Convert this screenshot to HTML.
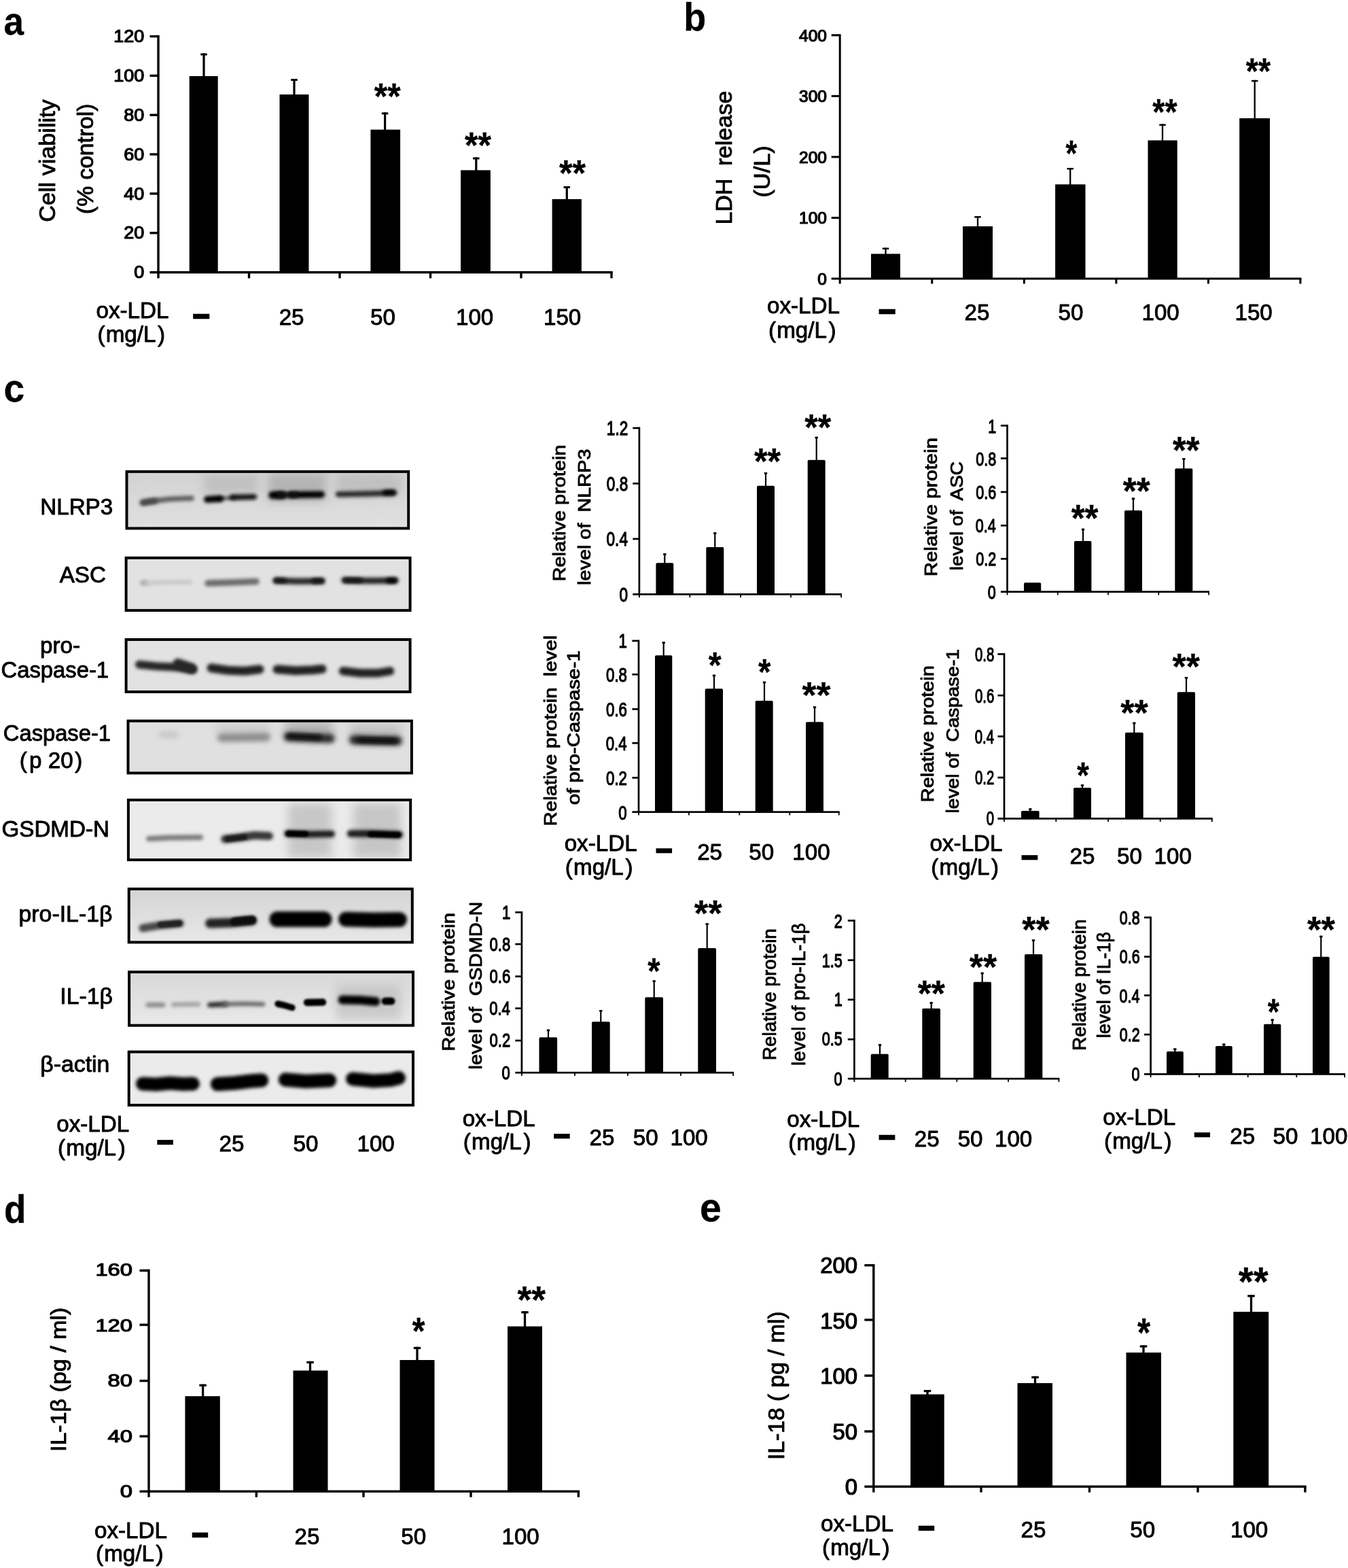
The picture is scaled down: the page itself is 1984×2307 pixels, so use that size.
<!DOCTYPE html>
<html lang="en">
<head>
<meta charset="utf-8">
<title>ox-LDL induces pyroptosis: cell viability, LDH release, NLRP3 inflammasome proteins, IL-1&#946; and IL-18</title>
<style>
html, body { margin: 0; padding: 0; background: #fff; }
body { width: 1984px; height: 2307px; overflow: hidden; }
svg { display: block; }
text { font-family: "Liberation Sans", Arial, Helvetica, sans-serif; fill: #000; white-space: pre; stroke: #000; stroke-width: 0.9px; stroke-linejoin: round; paint-order: stroke fill; }
text.b { stroke-width: 0.3px; }
text.t { stroke-width: 1.25px; }
</style>
</head>
<body>
<svg width="1984" height="2307" viewBox="0 0 1984 2307" role="img" aria-label="Figure: ox-LDL induces pyroptosis and NLRP3 inflammasome activation">
<rect width="1984" height="2307" fill="#fff"/>
<g id="blots">
<defs>
<filter id="bl1" filterUnits="userSpaceOnUse" x="170" y="680" width="460" height="960"><feGaussianBlur stdDeviation="1.6"/></filter>
<filter id="bl2" filterUnits="userSpaceOnUse" x="170" y="680" width="460" height="960"><feGaussianBlur stdDeviation="2.4"/></filter>
<filter id="bl3" filterUnits="userSpaceOnUse" x="170" y="680" width="460" height="960"><feGaussianBlur stdDeviation="3.6"/></filter>
<filter id="bl6" filterUnits="userSpaceOnUse" x="170" y="680" width="460" height="960"><feGaussianBlur stdDeviation="7"/></filter>
</defs>
<clipPath id="bc1"><rect x="186.5" y="693.9" width="414.7" height="83.5"/></clipPath>
<linearGradient id="bg1" x1="0" y1="0" x2="0" y2="1"><stop offset="0" stop-color="#d2d2d2"/><stop offset="1" stop-color="#e0e0e0"/></linearGradient>
<rect x="186.5" y="693.9" width="414.7" height="83.5" fill="url(#bg1)"/>
<g clip-path="url(#bc1)">
<rect x="300" y="698" width="80" height="28" fill="#aaa" opacity="0.5" filter="url(#bl6)"/>
<rect x="395" y="696" width="85" height="42" fill="#999" opacity="0.55" filter="url(#bl6)"/>
<rect x="495" y="698" width="95" height="30" fill="#aaa" opacity="0.5" filter="url(#bl6)"/>
<path d="M211.0 739.2 L225.0 737.2 L250.0 734.2 L282.0 733.0" fill="none" stroke="#5c5c5c" stroke-width="7.5" stroke-linecap="round" stroke-linejoin="round" opacity="1" filter="url(#bl2)"/>
<path d="M210.0 739.6 L228.0 737.0" fill="none" stroke="#484848" stroke-width="8.5" stroke-linecap="round" stroke-linejoin="round" opacity="1" filter="url(#bl2)"/>
<path d="M322.0 733.6 L345.0 732.2" fill="none" stroke="#3a3a3a" stroke-width="4.5" stroke-linecap="round" stroke-linejoin="round" opacity="1" filter="url(#bl2)"/>
<path d="M305.0 734.8 L324.0 733.8" fill="none" stroke="#050505" stroke-width="10" stroke-linecap="round" stroke-linejoin="round" opacity="1" filter="url(#bl2)"/>
<path d="M342.0 731.8 L374.0 731.0" fill="none" stroke="#0a0a0a" stroke-width="8" stroke-linecap="round" stroke-linejoin="round" opacity="1" filter="url(#bl2)"/>
<path d="M401.0 728.4 L416.0 728.4" fill="none" stroke="#000" stroke-width="11.5" stroke-linecap="round" stroke-linejoin="round" opacity="1" filter="url(#bl2)"/>
<path d="M428.0 728.0 L450.0 727.8 L473.0 727.5" fill="none" stroke="#000" stroke-width="10" stroke-linecap="round" stroke-linejoin="round" opacity="1" filter="url(#bl2)"/>
<path d="M410.0 728.3 L435.0 728.0" fill="none" stroke="#0a0a0a" stroke-width="7.5" stroke-linecap="round" stroke-linejoin="round" opacity="1" filter="url(#bl2)"/>
<path d="M498.0 727.3 L540.0 726.6 L580.0 725.2" fill="none" stroke="#2c2c2c" stroke-width="8.5" stroke-linecap="round" stroke-linejoin="round" opacity="1" filter="url(#bl2)"/>
<path d="M567.0 724.8 L578.0 724.6" fill="none" stroke="#050505" stroke-width="7.5" stroke-linecap="round" stroke-linejoin="round" opacity="1" filter="url(#bl2)"/>
</g>
<rect x="186.5" y="693.9" width="414.7" height="83.5" fill="none" stroke="#000" stroke-width="4.0"/>
<clipPath id="bc2"><rect x="185.6" y="820.8" width="418.0" height="77.3"/></clipPath>
<rect x="185.6" y="820.8" width="418.0" height="77.3" fill="#e2e2e2"/>
<g clip-path="url(#bc2)">
<path d="M210.0 857.8 L215.0 857.5" fill="none" stroke="#a0a0a0" stroke-width="7" stroke-linecap="round" stroke-linejoin="round" opacity="1" filter="url(#bl2)"/>
<path d="M215.0 858.0 L250.0 856.5 L280.0 856.5" fill="none" stroke="#c6c6c6" stroke-width="6" stroke-linecap="round" stroke-linejoin="round" opacity="1" filter="url(#bl2)"/>
<path d="M306.0 858.0 L340.0 857.0 L377.0 855.5" fill="none" stroke="#6a6a6a" stroke-width="9.5" stroke-linecap="round" stroke-linejoin="round" opacity="1" filter="url(#bl2)"/>
<path d="M406.0 854.2 L440.0 855.2 L474.0 854.7" fill="none" stroke="#2c2c2c" stroke-width="9.5" stroke-linecap="round" stroke-linejoin="round" opacity="1" filter="url(#bl2)"/>
<path d="M407.0 854.0 L418.0 854.2" fill="none" stroke="#0a0a0a" stroke-width="6" stroke-linecap="round" stroke-linejoin="round" opacity="1" filter="url(#bl2)"/>
<path d="M462.0 854.8 L473.0 854.7" fill="none" stroke="#0a0a0a" stroke-width="6.5" stroke-linecap="round" stroke-linejoin="round" opacity="1" filter="url(#bl2)"/>
<path d="M507.0 853.7 L545.0 854.4 L582.0 854.0" fill="none" stroke="#262626" stroke-width="9.5" stroke-linecap="round" stroke-linejoin="round" opacity="1" filter="url(#bl2)"/>
<path d="M509.0 853.7 L530.0 853.9" fill="none" stroke="#0a0a0a" stroke-width="6" stroke-linecap="round" stroke-linejoin="round" opacity="1" filter="url(#bl2)"/>
<path d="M572.0 854.2 L580.0 854.2" fill="none" stroke="#000" stroke-width="7.5" stroke-linecap="round" stroke-linejoin="round" opacity="1" filter="url(#bl2)"/>
</g>
<rect x="185.6" y="820.8" width="418.0" height="77.3" fill="none" stroke="#000" stroke-width="4.0"/>
<clipPath id="bc3"><rect x="185.6" y="941.0" width="418.0" height="76.9"/></clipPath>
<rect x="185.6" y="941.0" width="418.0" height="76.9" fill="#e2e2e2"/>
<g clip-path="url(#bc3)">
<path d="M205.0 977.8 L230.0 980.3 L260.0 981.8 L284.0 985.3" fill="none" stroke="#262626" stroke-width="12" stroke-linecap="round" stroke-linejoin="round" opacity="1" filter="url(#bl2)"/>
<path d="M262.0 976.3 L282.0 983.3" fill="none" stroke="#262626" stroke-width="15" stroke-linecap="round" stroke-linejoin="round" opacity="1" filter="url(#bl2)"/>
<path d="M311.0 982.8 L335.0 986.3 L360.0 987.3 L382.0 984.8" fill="none" stroke="#242424" stroke-width="13" stroke-linecap="round" stroke-linejoin="round" opacity="1" filter="url(#bl2)"/>
<path d="M408.0 984.8 L435.0 986.8 L460.0 985.8 L474.0 984.3" fill="none" stroke="#242424" stroke-width="13" stroke-linecap="round" stroke-linejoin="round" opacity="1" filter="url(#bl2)"/>
<path d="M505.0 987.3 L530.0 990.3 L555.0 990.3 L574.0 987.3" fill="none" stroke="#242424" stroke-width="12.5" stroke-linecap="round" stroke-linejoin="round" opacity="1" filter="url(#bl2)"/>
</g>
<rect x="185.6" y="941.0" width="418.0" height="76.9" fill="none" stroke="#000" stroke-width="4.0"/>
<clipPath id="bc4"><rect x="188.5" y="1060.7" width="417.4" height="76.7"/></clipPath>
<rect x="188.5" y="1060.7" width="417.4" height="76.7" fill="#e0e0e0"/>
<g clip-path="url(#bc4)">
<rect x="420" y="1062" width="70" height="22" fill="#888" opacity="0.55" filter="url(#bl6)"/>
<rect x="515" y="1066" width="75" height="20" fill="#999" opacity="0.45" filter="url(#bl6)"/>
<rect x="320" y="1066" width="76" height="18" fill="#aaa" opacity="0.4" filter="url(#bl6)"/>
<path d="M238.0 1081.0 L258.0 1081.0" fill="none" stroke="#c8c8c8" stroke-width="10" stroke-linecap="round" stroke-linejoin="round" opacity="1" filter="url(#bl3)"/>
<path d="M326.0 1085.5 L392.0 1084.5" fill="none" stroke="#8c8c8c" stroke-width="12" stroke-linecap="round" stroke-linejoin="round" opacity="1" filter="url(#bl3)"/>
<path d="M424.0 1084.0 L455.0 1085.5 L486.0 1086.5" fill="none" stroke="#2a2a2a" stroke-width="13.5" stroke-linecap="round" stroke-linejoin="round" opacity="1" filter="url(#bl3)"/>
<path d="M426.0 1083.0 L470.0 1085.0" fill="none" stroke="#111" stroke-width="7" stroke-linecap="round" stroke-linejoin="round" opacity="1" filter="url(#bl2)"/>
<path d="M521.0 1088.5 L555.0 1089.5 L585.0 1090.0" fill="none" stroke="#242424" stroke-width="14" stroke-linecap="round" stroke-linejoin="round" opacity="1" filter="url(#bl3)"/>
<path d="M530.0 1089.0 L580.0 1090.0" fill="none" stroke="#0a0a0a" stroke-width="7" stroke-linecap="round" stroke-linejoin="round" opacity="1" filter="url(#bl2)"/>
</g>
<rect x="188.5" y="1060.7" width="417.4" height="76.7" fill="none" stroke="#000" stroke-width="4.0"/>
<clipPath id="bc5"><rect x="188.9" y="1177.0" width="415.3" height="88.1"/></clipPath>
<rect x="188.9" y="1177.0" width="415.3" height="88.1" fill="#ebebeb"/>
<g clip-path="url(#bc5)">
<rect x="424" y="1182" width="64" height="80" fill="#aaa" opacity="0.55" filter="url(#bl6)"/>
<rect x="520" y="1182" width="70" height="80" fill="#a8a8a8" opacity="0.55" filter="url(#bl6)"/>
<path d="M219.0 1234.0 L250.0 1232.5 L295.0 1232.0" fill="none" stroke="#7a7a7a" stroke-width="8" stroke-linecap="round" stroke-linejoin="round" opacity="1" filter="url(#bl2)"/>
<path d="M331.0 1234.5 L350.0 1232.5 L375.0 1229.0 L396.0 1230.0" fill="none" stroke="#383838" stroke-width="12" stroke-linecap="round" stroke-linejoin="round" opacity="1" filter="url(#bl2)"/>
<path d="M335.0 1234.5 L360.0 1231.5" fill="none" stroke="#1a1a1a" stroke-width="8" stroke-linecap="round" stroke-linejoin="round" opacity="1" filter="url(#bl1)"/>
<path d="M423.0 1226.5 L455.0 1227.5 L488.0 1227.0" fill="none" stroke="#1c1c1c" stroke-width="10" stroke-linecap="round" stroke-linejoin="round" opacity="1" filter="url(#bl2)"/>
<path d="M425.0 1226.5 L450.0 1227.0" fill="none" stroke="#000" stroke-width="8.5" stroke-linecap="round" stroke-linejoin="round" opacity="1" filter="url(#bl1)"/>
<path d="M516.0 1226.5 L550.0 1226.5 L588.0 1228.0" fill="none" stroke="#1c1c1c" stroke-width="10.5" stroke-linecap="round" stroke-linejoin="round" opacity="1" filter="url(#bl2)"/>
<path d="M545.0 1227.5 L586.0 1228.5" fill="none" stroke="#000" stroke-width="8.5" stroke-linecap="round" stroke-linejoin="round" opacity="1" filter="url(#bl1)"/>
</g>
<rect x="188.9" y="1177.0" width="415.3" height="88.1" fill="none" stroke="#000" stroke-width="4.0"/>
<clipPath id="bc6"><rect x="189.7" y="1307.9" width="417.1" height="78.5"/></clipPath>
<linearGradient id="bg6" x1="0" y1="0" x2="0" y2="1"><stop offset="0" stop-color="#d4d4d4"/><stop offset="1" stop-color="#e8e8e8"/></linearGradient>
<rect x="189.7" y="1307.9" width="417.1" height="78.5" fill="url(#bg6)"/>
<g clip-path="url(#bc6)">
<path d="M210.0 1365.5 L235.0 1361.5 L265.0 1358.5" fill="none" stroke="#484848" stroke-width="11.5" stroke-linecap="round" stroke-linejoin="round" opacity="1" filter="url(#bl2)"/>
<path d="M236.0 1360.5 L264.0 1358.5" fill="none" stroke="#222" stroke-width="9" stroke-linecap="round" stroke-linejoin="round" opacity="1" filter="url(#bl1)"/>
<path d="M309.0 1358.5 L340.0 1357.5 L371.0 1354.5" fill="none" stroke="#222" stroke-width="14" stroke-linecap="round" stroke-linejoin="round" opacity="1" filter="url(#bl2)"/>
<path d="M345.0 1356.0 L371.0 1353.5" fill="none" stroke="#0a0a0a" stroke-width="12" stroke-linecap="round" stroke-linejoin="round" opacity="1" filter="url(#bl1)"/>
<path d="M408.0 1352.5 L477.0 1352.5" fill="none" stroke="#000" stroke-width="23" stroke-linecap="round" stroke-linejoin="round" opacity="1" filter="url(#bl2)"/>
<path d="M509.0 1352.5 L550.0 1353.5 L588.0 1353.0" fill="none" stroke="#000" stroke-width="22" stroke-linecap="round" stroke-linejoin="round" opacity="1" filter="url(#bl2)"/>
</g>
<rect x="189.7" y="1307.9" width="417.1" height="78.5" fill="none" stroke="#000" stroke-width="4.0"/>
<clipPath id="bc7"><rect x="190.1" y="1430.1" width="417.9" height="78.6"/></clipPath>
<linearGradient id="bg7" x1="0" y1="0" x2="0" y2="1"><stop offset="0" stop-color="#d8d8d8"/><stop offset="1" stop-color="#e9e9e9"/></linearGradient>
<rect x="190.1" y="1430.1" width="417.9" height="78.6" fill="url(#bg7)"/>
<g clip-path="url(#bc7)">
<rect x="495" y="1450" width="95" height="50" fill="#aaa" opacity="0.45" filter="url(#bl6)"/>
<path d="M218.0 1478.5 L240.0 1478.5" fill="none" stroke="#8a8a8a" stroke-width="7" stroke-linecap="round" stroke-linejoin="round" opacity="1" filter="url(#bl2)"/>
<path d="M255.0 1478.0 L292.0 1477.5" fill="none" stroke="#a0a0a0" stroke-width="6.5" stroke-linecap="round" stroke-linejoin="round" opacity="1" filter="url(#bl2)"/>
<path d="M309.0 1478.5 L332.0 1477.5" fill="none" stroke="#2a2a2a" stroke-width="7.5" stroke-linecap="round" stroke-linejoin="round" opacity="1" filter="url(#bl2)"/>
<path d="M330.0 1477.5 L360.0 1476.8 L387.0 1477.5" fill="none" stroke="#686868" stroke-width="6.5" stroke-linecap="round" stroke-linejoin="round" opacity="1" filter="url(#bl2)"/>
<path d="M409.0 1477.0 L418.0 1479.0 L430.0 1482.5" fill="none" stroke="#000" stroke-width="9.5" stroke-linecap="round" stroke-linejoin="round" opacity="1" filter="url(#bl1)"/>
<path d="M452.0 1475.0 L475.0 1474.5" fill="none" stroke="#000" stroke-width="10.5" stroke-linecap="round" stroke-linejoin="round" opacity="1" filter="url(#bl1)"/>
<path d="M504.0 1471.0 L530.0 1471.5 L553.0 1473.5" fill="none" stroke="#000" stroke-width="13" stroke-linecap="round" stroke-linejoin="round" opacity="1" filter="url(#bl2)"/>
<path d="M567.0 1473.0 L576.0 1473.0" fill="none" stroke="#000" stroke-width="11" stroke-linecap="round" stroke-linejoin="round" opacity="1" filter="url(#bl1)"/>
</g>
<rect x="190.1" y="1430.1" width="417.9" height="78.6" fill="none" stroke="#000" stroke-width="4.0"/>
<clipPath id="bc8"><rect x="189.7" y="1547.6" width="418.3" height="78.4"/></clipPath>
<rect x="189.7" y="1547.6" width="418.3" height="78.4" fill="#ebebeb"/>
<g clip-path="url(#bc8)">
<path d="M210.0 1594.5 L230.0 1595.5 L250.0 1593.5 L270.0 1595.0 L284.0 1594.5" fill="none" stroke="#000" stroke-width="20" stroke-linecap="round" stroke-linejoin="round" opacity="1" filter="url(#bl2)"/>
<path d="M320.0 1595.0 L345.0 1593.5 L370.0 1590.5 L385.0 1589.5" fill="none" stroke="#000" stroke-width="20.5" stroke-linecap="round" stroke-linejoin="round" opacity="1" filter="url(#bl2)"/>
<path d="M420.0 1588.5 L450.0 1591.0 L485.0 1589.5" fill="none" stroke="#000" stroke-width="20.5" stroke-linecap="round" stroke-linejoin="round" opacity="1" filter="url(#bl2)"/>
<path d="M519.0 1587.5 L550.0 1590.5 L575.0 1589.0 L587.0 1586.0" fill="none" stroke="#000" stroke-width="20" stroke-linecap="round" stroke-linejoin="round" opacity="1" filter="url(#bl2)"/>
</g>
<rect x="189.7" y="1547.6" width="418.3" height="78.4" fill="none" stroke="#000" stroke-width="4.0"/>
</g>
<g id="charts" shape-rendering="geometricPrecision">
<rect x="231.30" y="51.80" width="3.40" height="350.60" fill="#000"/>
<rect x="220.50" y="399.00" width="681.20" height="3.40" fill="#000"/>
<rect x="220.50" y="341.05" width="12.50" height="3.40" fill="#000"/>
<rect x="220.50" y="283.20" width="12.50" height="3.40" fill="#000"/>
<rect x="220.50" y="225.35" width="12.50" height="3.40" fill="#000"/>
<rect x="220.50" y="167.50" width="12.50" height="3.40" fill="#000"/>
<rect x="220.50" y="109.65" width="12.50" height="3.40" fill="#000"/>
<rect x="220.50" y="51.80" width="12.50" height="3.40" fill="#000"/>
<rect x="231.30" y="400.70" width="3.40" height="8.70" fill="#000"/>
<rect x="364.80" y="400.70" width="3.40" height="8.70" fill="#000"/>
<rect x="498.30" y="400.70" width="3.40" height="8.70" fill="#000"/>
<rect x="631.80" y="400.70" width="3.40" height="8.70" fill="#000"/>
<rect x="765.30" y="400.70" width="3.40" height="8.70" fill="#000"/>
<rect x="898.30" y="400.70" width="3.40" height="8.70" fill="#000"/>
<rect x="278.70" y="112.00" width="42.00" height="288.70" fill="#000"/>
<rect x="298.40" y="78.50" width="3.20" height="34.50" fill="#000"/>
<rect x="295.25" y="78.50" width="9.50" height="3.00" fill="#000"/>
<rect x="411.50" y="139.00" width="43.00" height="261.70" fill="#000"/>
<rect x="431.40" y="116.00" width="3.20" height="24.00" fill="#000"/>
<rect x="428.25" y="116.00" width="9.50" height="3.00" fill="#000"/>
<rect x="545.40" y="190.70" width="43.70" height="210.00" fill="#000"/>
<rect x="565.00" y="165.40" width="3.20" height="26.30" fill="#000"/>
<rect x="561.85" y="165.40" width="9.50" height="3.00" fill="#000"/>
<rect x="678.10" y="250.40" width="43.80" height="150.30" fill="#000"/>
<rect x="699.20" y="231.50" width="3.20" height="19.90" fill="#000"/>
<rect x="696.05" y="231.50" width="9.50" height="3.00" fill="#000"/>
<rect x="812.60" y="293.00" width="43.30" height="107.70" fill="#000"/>
<rect x="832.70" y="274.00" width="3.20" height="20.00" fill="#000"/>
<rect x="829.55" y="274.00" width="9.50" height="3.00" fill="#000"/>
<rect x="1234.70" y="50.30" width="3.00" height="361.20" fill="#000"/>
<rect x="1223.70" y="408.50" width="691.70" height="3.00" fill="#000"/>
<rect x="1223.70" y="318.95" width="12.50" height="3.00" fill="#000"/>
<rect x="1223.70" y="229.40" width="12.50" height="3.00" fill="#000"/>
<rect x="1223.70" y="139.85" width="12.50" height="3.00" fill="#000"/>
<rect x="1223.70" y="50.30" width="12.50" height="3.00" fill="#000"/>
<rect x="1234.70" y="410.00" width="3.00" height="7.50" fill="#000"/>
<rect x="1370.26" y="410.00" width="3.00" height="7.50" fill="#000"/>
<rect x="1505.82" y="410.00" width="3.00" height="7.50" fill="#000"/>
<rect x="1641.38" y="410.00" width="3.00" height="7.50" fill="#000"/>
<rect x="1776.94" y="410.00" width="3.00" height="7.50" fill="#000"/>
<rect x="1912.40" y="410.00" width="3.00" height="7.50" fill="#000"/>
<rect x="1282.00" y="373.50" width="43.00" height="36.50" fill="#000"/>
<rect x="1302.35" y="364.50" width="2.30" height="10.00" fill="#000"/>
<rect x="1298.75" y="364.50" width="9.50" height="2.50" fill="#000"/>
<rect x="1417.00" y="333.00" width="44.00" height="77.00" fill="#000"/>
<rect x="1437.85" y="318.00" width="2.30" height="16.00" fill="#000"/>
<rect x="1434.25" y="318.00" width="9.50" height="2.50" fill="#000"/>
<rect x="1553.10" y="271.30" width="44.40" height="138.70" fill="#000"/>
<rect x="1574.05" y="247.00" width="2.30" height="25.30" fill="#000"/>
<rect x="1570.45" y="247.00" width="9.50" height="2.50" fill="#000"/>
<rect x="1689.50" y="206.50" width="43.20" height="203.50" fill="#000"/>
<rect x="1709.85" y="182.50" width="2.30" height="25.00" fill="#000"/>
<rect x="1706.25" y="182.50" width="9.50" height="2.50" fill="#000"/>
<rect x="1824.20" y="174.00" width="44.80" height="236.00" fill="#000"/>
<rect x="1845.55" y="117.80" width="2.30" height="57.20" fill="#000"/>
<rect x="1841.95" y="117.80" width="9.50" height="2.50" fill="#000"/>
<rect x="939.55" y="628.45" width="2.70" height="247.30" fill="#000"/>
<rect x="931.30" y="873.05" width="307.70" height="2.70" fill="#000"/>
<rect x="931.30" y="628.45" width="9.60" height="2.70" fill="#000"/>
<rect x="931.30" y="710.05" width="9.60" height="2.70" fill="#000"/>
<rect x="931.30" y="791.55" width="9.60" height="2.70" fill="#000"/>
<rect x="940.00" y="874.40" width="1.80" height="4.75" fill="#000"/>
<rect x="1014.40" y="874.40" width="1.80" height="4.75" fill="#000"/>
<rect x="1089.10" y="874.40" width="1.80" height="4.75" fill="#000"/>
<rect x="1163.10" y="874.40" width="1.80" height="4.75" fill="#000"/>
<rect x="1237.20" y="874.40" width="1.80" height="4.75" fill="#000"/>
<path d="M965.40 874.40V830.00Q965.40 828.20 967.20 828.20H989.50Q991.30 828.20 991.30 830.00V874.40Z" fill="#000"/>
<rect x="977.20" y="814.20" width="2.20" height="15.00" fill="#000"/>
<rect x="976.10" y="814.20" width="4.40" height="2.60" fill="#000"/>
<path d="M1039.30 874.40V806.80Q1039.30 805.00 1041.10 805.00H1063.50Q1065.30 805.00 1065.30 806.80V874.40Z" fill="#000"/>
<rect x="1051.20" y="783.30" width="2.20" height="22.70" fill="#000"/>
<rect x="1050.10" y="783.30" width="4.40" height="2.60" fill="#000"/>
<path d="M1114.00 874.40V716.60Q1114.00 714.80 1115.80 714.80H1138.20Q1140.00 714.80 1140.00 716.60V874.40Z" fill="#000"/>
<rect x="1125.90" y="695.00" width="2.20" height="20.80" fill="#000"/>
<rect x="1124.80" y="695.00" width="4.40" height="2.60" fill="#000"/>
<path d="M1188.70 874.40V678.50Q1188.70 676.70 1190.50 676.70H1212.90Q1214.70 676.70 1214.70 678.50V874.40Z" fill="#000"/>
<rect x="1200.60" y="642.60" width="2.20" height="35.10" fill="#000"/>
<rect x="1199.50" y="642.60" width="4.40" height="2.60" fill="#000"/>
<rect x="1481.15" y="624.85" width="2.70" height="247.20" fill="#000"/>
<rect x="1472.90" y="869.35" width="307.10" height="2.70" fill="#000"/>
<rect x="1472.90" y="624.85" width="9.60" height="2.70" fill="#000"/>
<rect x="1472.90" y="673.05" width="9.60" height="2.70" fill="#000"/>
<rect x="1472.90" y="722.55" width="9.60" height="2.70" fill="#000"/>
<rect x="1472.90" y="771.85" width="9.60" height="2.70" fill="#000"/>
<rect x="1472.90" y="820.85" width="9.60" height="2.70" fill="#000"/>
<rect x="1481.60" y="870.70" width="1.80" height="4.75" fill="#000"/>
<rect x="1555.80" y="870.70" width="1.80" height="4.75" fill="#000"/>
<rect x="1630.10" y="870.70" width="1.80" height="4.75" fill="#000"/>
<rect x="1704.40" y="870.70" width="1.80" height="4.75" fill="#000"/>
<rect x="1778.20" y="870.70" width="1.80" height="4.75" fill="#000"/>
<path d="M1507.00 870.70V859.00Q1507.00 857.20 1508.80 857.20H1530.40Q1532.20 857.20 1532.20 859.00V870.70Z" fill="#000"/>
<path d="M1581.00 870.70V797.80Q1581.00 796.00 1582.80 796.00H1604.60Q1606.40 796.00 1606.40 797.80V870.70Z" fill="#000"/>
<rect x="1592.90" y="777.70" width="2.20" height="19.30" fill="#000"/>
<rect x="1591.80" y="777.70" width="4.40" height="2.60" fill="#000"/>
<path d="M1655.00 870.70V752.80Q1655.00 751.00 1656.80 751.00H1679.20Q1681.00 751.00 1681.00 752.80V870.70Z" fill="#000"/>
<rect x="1666.90" y="732.50" width="2.20" height="19.50" fill="#000"/>
<rect x="1665.80" y="732.50" width="4.40" height="2.60" fill="#000"/>
<path d="M1729.30 870.70V691.10Q1729.30 689.30 1731.10 689.30H1753.50Q1755.30 689.30 1755.30 691.10V870.70Z" fill="#000"/>
<rect x="1741.20" y="674.00" width="2.20" height="16.30" fill="#000"/>
<rect x="1740.10" y="674.00" width="4.40" height="2.60" fill="#000"/>
<rect x="938.65" y="941.55" width="2.70" height="254.50" fill="#000"/>
<rect x="930.40" y="1193.35" width="305.30" height="2.70" fill="#000"/>
<rect x="930.40" y="941.55" width="9.60" height="2.70" fill="#000"/>
<rect x="930.40" y="990.95" width="9.60" height="2.70" fill="#000"/>
<rect x="930.40" y="1041.95" width="9.60" height="2.70" fill="#000"/>
<rect x="930.40" y="1091.95" width="9.60" height="2.70" fill="#000"/>
<rect x="930.40" y="1142.95" width="9.60" height="2.70" fill="#000"/>
<rect x="939.10" y="1194.70" width="1.80" height="4.75" fill="#000"/>
<rect x="1013.10" y="1194.70" width="1.80" height="4.75" fill="#000"/>
<rect x="1087.40" y="1194.70" width="1.80" height="4.75" fill="#000"/>
<rect x="1161.40" y="1194.70" width="1.80" height="4.75" fill="#000"/>
<rect x="1233.90" y="1194.70" width="1.80" height="4.75" fill="#000"/>
<path d="M964.00 1194.70V966.10Q964.00 964.30 965.80 964.30H987.50Q989.30 964.30 989.30 966.10V1194.70Z" fill="#000"/>
<rect x="975.60" y="944.30" width="2.20" height="21.00" fill="#000"/>
<rect x="974.50" y="944.30" width="4.40" height="2.60" fill="#000"/>
<path d="M1037.70 1194.70V1015.10Q1037.70 1013.30 1039.50 1013.30H1062.20Q1064.00 1013.30 1064.00 1015.10V1194.70Z" fill="#000"/>
<rect x="1049.90" y="992.70" width="2.20" height="21.60" fill="#000"/>
<rect x="1048.80" y="992.70" width="4.40" height="2.60" fill="#000"/>
<path d="M1111.70 1194.70V1032.80Q1111.70 1031.00 1113.50 1031.00H1135.90Q1137.70 1031.00 1137.70 1032.80V1194.70Z" fill="#000"/>
<rect x="1123.90" y="1002.70" width="2.20" height="29.30" fill="#000"/>
<rect x="1122.80" y="1002.70" width="4.40" height="2.60" fill="#000"/>
<path d="M1186.00 1194.70V1064.10Q1186.00 1062.30 1187.80 1062.30H1210.20Q1212.00 1062.30 1212.00 1064.10V1194.70Z" fill="#000"/>
<rect x="1197.90" y="1039.30" width="2.20" height="24.00" fill="#000"/>
<rect x="1196.80" y="1039.30" width="4.40" height="2.60" fill="#000"/>
<rect x="1476.65" y="961.05" width="2.70" height="244.70" fill="#000"/>
<rect x="1468.40" y="1203.05" width="316.30" height="2.70" fill="#000"/>
<rect x="1468.40" y="961.05" width="9.60" height="2.70" fill="#000"/>
<rect x="1468.40" y="1021.85" width="9.60" height="2.70" fill="#000"/>
<rect x="1468.40" y="1082.15" width="9.60" height="2.70" fill="#000"/>
<rect x="1468.40" y="1142.65" width="9.60" height="2.70" fill="#000"/>
<rect x="1477.10" y="1204.40" width="1.80" height="4.75" fill="#000"/>
<rect x="1553.40" y="1204.40" width="1.80" height="4.75" fill="#000"/>
<rect x="1630.10" y="1204.40" width="1.80" height="4.75" fill="#000"/>
<rect x="1706.80" y="1204.40" width="1.80" height="4.75" fill="#000"/>
<rect x="1782.90" y="1204.40" width="1.80" height="4.75" fill="#000"/>
<path d="M1503.00 1204.40V1194.80Q1503.00 1193.00 1504.80 1193.00H1527.80Q1529.60 1193.00 1529.60 1194.80V1204.40Z" fill="#000"/>
<rect x="1515.20" y="1189.30" width="2.20" height="4.70" fill="#000"/>
<rect x="1514.10" y="1189.30" width="4.40" height="2.60" fill="#000"/>
<path d="M1580.00 1204.40V1160.80Q1580.00 1159.00 1581.80 1159.00H1604.20Q1606.00 1159.00 1606.00 1160.80V1204.40Z" fill="#000"/>
<rect x="1591.90" y="1154.30" width="2.20" height="5.70" fill="#000"/>
<rect x="1590.80" y="1154.30" width="4.40" height="2.60" fill="#000"/>
<path d="M1656.00 1204.40V1079.50Q1656.00 1077.70 1657.80 1077.70H1680.90Q1682.70 1077.70 1682.70 1079.50V1204.40Z" fill="#000"/>
<rect x="1668.20" y="1062.70" width="2.20" height="16.00" fill="#000"/>
<rect x="1667.10" y="1062.70" width="4.40" height="2.60" fill="#000"/>
<path d="M1732.70 1204.40V1020.10Q1732.70 1018.30 1734.50 1018.30H1757.20Q1759.00 1018.30 1759.00 1020.10V1204.40Z" fill="#000"/>
<rect x="1744.90" y="996.00" width="2.20" height="23.30" fill="#000"/>
<rect x="1743.80" y="996.00" width="4.40" height="2.60" fill="#000"/>
<rect x="766.55" y="1340.95" width="2.70" height="238.60" fill="#000"/>
<rect x="758.30" y="1576.85" width="321.70" height="2.70" fill="#000"/>
<rect x="758.30" y="1340.95" width="9.60" height="2.70" fill="#000"/>
<rect x="758.30" y="1387.75" width="9.60" height="2.70" fill="#000"/>
<rect x="758.30" y="1435.25" width="9.60" height="2.70" fill="#000"/>
<rect x="758.30" y="1482.25" width="9.60" height="2.70" fill="#000"/>
<rect x="758.30" y="1529.65" width="9.60" height="2.70" fill="#000"/>
<rect x="767.00" y="1578.20" width="1.80" height="4.75" fill="#000"/>
<rect x="845.10" y="1578.20" width="1.80" height="4.75" fill="#000"/>
<rect x="923.10" y="1578.20" width="1.80" height="4.75" fill="#000"/>
<rect x="1001.10" y="1578.20" width="1.80" height="4.75" fill="#000"/>
<rect x="1078.20" y="1578.20" width="1.80" height="4.75" fill="#000"/>
<path d="M793.50 1578.20V1528.00Q793.50 1526.20 795.30 1526.20H818.30Q820.10 1526.20 820.10 1528.00V1578.20Z" fill="#000"/>
<rect x="805.90" y="1514.60" width="2.20" height="12.60" fill="#000"/>
<rect x="804.80" y="1514.60" width="4.40" height="2.60" fill="#000"/>
<path d="M871.00 1578.20V1505.10Q871.00 1503.30 872.80 1503.30H895.90Q897.70 1503.30 897.70 1505.10V1578.20Z" fill="#000"/>
<rect x="883.20" y="1486.00" width="2.20" height="18.30" fill="#000"/>
<rect x="882.10" y="1486.00" width="4.40" height="2.60" fill="#000"/>
<path d="M949.30 1578.20V1469.10Q949.30 1467.30 951.10 1467.30H974.20Q976.00 1467.30 976.00 1469.10V1578.20Z" fill="#000"/>
<rect x="961.60" y="1442.30" width="2.20" height="26.00" fill="#000"/>
<rect x="960.50" y="1442.30" width="4.40" height="2.60" fill="#000"/>
<path d="M1027.30 1578.20V1396.80Q1027.30 1395.00 1029.10 1395.00H1052.20Q1054.00 1395.00 1054.00 1396.80V1578.20Z" fill="#000"/>
<rect x="1039.60" y="1358.30" width="2.20" height="37.70" fill="#000"/>
<rect x="1038.50" y="1358.30" width="4.40" height="2.60" fill="#000"/>
<rect x="1256.05" y="1353.15" width="2.70" height="235.30" fill="#000"/>
<rect x="1247.80" y="1585.75" width="311.50" height="2.70" fill="#000"/>
<rect x="1247.80" y="1353.15" width="9.60" height="2.70" fill="#000"/>
<rect x="1247.80" y="1411.35" width="9.60" height="2.70" fill="#000"/>
<rect x="1247.80" y="1469.45" width="9.60" height="2.70" fill="#000"/>
<rect x="1247.80" y="1527.85" width="9.60" height="2.70" fill="#000"/>
<rect x="1256.50" y="1587.10" width="1.80" height="4.75" fill="#000"/>
<rect x="1331.80" y="1587.10" width="1.80" height="4.75" fill="#000"/>
<rect x="1407.40" y="1587.10" width="1.80" height="4.75" fill="#000"/>
<rect x="1483.10" y="1587.10" width="1.80" height="4.75" fill="#000"/>
<rect x="1557.50" y="1587.10" width="1.80" height="4.75" fill="#000"/>
<path d="M1281.70 1587.10V1552.50Q1281.70 1550.70 1283.50 1550.70H1305.90Q1307.70 1550.70 1307.70 1552.50V1587.10Z" fill="#000"/>
<rect x="1293.90" y="1536.20" width="2.20" height="15.50" fill="#000"/>
<rect x="1292.80" y="1536.20" width="4.40" height="2.60" fill="#000"/>
<path d="M1357.30 1587.10V1485.50Q1357.30 1483.70 1359.10 1483.70H1382.20Q1384.00 1483.70 1384.00 1485.50V1587.10Z" fill="#000"/>
<rect x="1369.60" y="1474.30" width="2.20" height="10.40" fill="#000"/>
<rect x="1368.50" y="1474.30" width="4.40" height="2.60" fill="#000"/>
<path d="M1432.70 1587.10V1446.50Q1432.70 1444.70 1434.50 1444.70H1457.20Q1459.00 1444.70 1459.00 1446.50V1587.10Z" fill="#000"/>
<rect x="1444.60" y="1430.70" width="2.20" height="15.00" fill="#000"/>
<rect x="1443.50" y="1430.70" width="4.40" height="2.60" fill="#000"/>
<path d="M1508.00 1587.10V1405.80Q1508.00 1404.00 1509.80 1404.00H1532.50Q1534.30 1404.00 1534.30 1405.80V1587.10Z" fill="#000"/>
<rect x="1519.90" y="1382.30" width="2.20" height="22.70" fill="#000"/>
<rect x="1518.80" y="1382.30" width="4.40" height="2.60" fill="#000"/>
<rect x="1692.25" y="1348.55" width="2.70" height="233.20" fill="#000"/>
<rect x="1684.00" y="1579.05" width="296.00" height="2.70" fill="#000"/>
<rect x="1684.00" y="1348.55" width="9.60" height="2.70" fill="#000"/>
<rect x="1684.00" y="1406.25" width="9.60" height="2.70" fill="#000"/>
<rect x="1684.00" y="1463.15" width="9.60" height="2.70" fill="#000"/>
<rect x="1684.00" y="1520.75" width="9.60" height="2.70" fill="#000"/>
<rect x="1692.70" y="1580.40" width="1.80" height="4.75" fill="#000"/>
<rect x="1764.10" y="1580.40" width="1.80" height="4.75" fill="#000"/>
<rect x="1835.80" y="1580.40" width="1.80" height="4.75" fill="#000"/>
<rect x="1907.40" y="1580.40" width="1.80" height="4.75" fill="#000"/>
<rect x="1978.20" y="1580.40" width="1.80" height="4.75" fill="#000"/>
<path d="M1717.00 1580.40V1548.80Q1717.00 1547.00 1718.80 1547.00H1740.00Q1741.80 1547.00 1741.80 1548.80V1580.40Z" fill="#000"/>
<rect x="1728.20" y="1542.40" width="2.20" height="5.60" fill="#000"/>
<rect x="1727.10" y="1542.40" width="4.40" height="2.60" fill="#000"/>
<path d="M1789.00 1580.40V1540.80Q1789.00 1539.00 1790.80 1539.00H1811.90Q1813.70 1539.00 1813.70 1540.80V1580.40Z" fill="#000"/>
<rect x="1800.20" y="1535.50" width="2.20" height="4.50" fill="#000"/>
<rect x="1799.10" y="1535.50" width="4.40" height="2.60" fill="#000"/>
<path d="M1860.00 1580.40V1508.50Q1860.00 1506.70 1861.80 1506.70H1883.50Q1885.30 1506.70 1885.30 1508.50V1580.40Z" fill="#000"/>
<rect x="1871.60" y="1499.30" width="2.20" height="8.40" fill="#000"/>
<rect x="1870.50" y="1499.30" width="4.40" height="2.60" fill="#000"/>
<path d="M1932.00 1580.40V1409.50Q1932.00 1407.70 1933.80 1407.70H1954.90Q1956.70 1407.70 1956.70 1409.50V1580.40Z" fill="#000"/>
<rect x="1943.20" y="1376.70" width="2.20" height="32.00" fill="#000"/>
<rect x="1942.10" y="1376.70" width="4.40" height="2.60" fill="#000"/>
<rect x="217.30" y="1867.60" width="3.40" height="328.40" fill="#000"/>
<rect x="205.50" y="2192.60" width="647.60" height="3.40" fill="#000"/>
<rect x="205.50" y="1867.60" width="13.50" height="3.40" fill="#000"/>
<rect x="205.50" y="1947.50" width="13.50" height="3.40" fill="#000"/>
<rect x="205.50" y="2029.90" width="13.50" height="3.40" fill="#000"/>
<rect x="205.50" y="2111.50" width="13.50" height="3.40" fill="#000"/>
<rect x="217.30" y="2194.30" width="3.40" height="8.50" fill="#000"/>
<rect x="375.60" y="2194.30" width="3.40" height="8.50" fill="#000"/>
<rect x="533.30" y="2194.30" width="3.40" height="8.50" fill="#000"/>
<rect x="691.30" y="2194.30" width="3.40" height="8.50" fill="#000"/>
<rect x="849.70" y="2194.30" width="3.40" height="8.50" fill="#000"/>
<rect x="272.40" y="2054.20" width="51.40" height="140.10" fill="#000"/>
<rect x="296.95" y="2036.60" width="3.30" height="18.60" fill="#000"/>
<rect x="293.35" y="2036.60" width="10.50" height="3.20" fill="#000"/>
<rect x="431.50" y="2016.50" width="51.00" height="177.80" fill="#000"/>
<rect x="454.85" y="2002.80" width="3.30" height="14.70" fill="#000"/>
<rect x="451.25" y="2002.80" width="10.50" height="3.20" fill="#000"/>
<rect x="588.50" y="2001.00" width="51.00" height="193.30" fill="#000"/>
<rect x="612.35" y="1981.70" width="3.30" height="20.30" fill="#000"/>
<rect x="608.75" y="1981.70" width="10.50" height="3.20" fill="#000"/>
<rect x="747.00" y="1951.50" width="51.00" height="242.80" fill="#000"/>
<rect x="770.85" y="1929.20" width="3.30" height="23.30" fill="#000"/>
<rect x="767.25" y="1929.20" width="10.50" height="3.20" fill="#000"/>
<rect x="1284.10" y="1859.90" width="3.40" height="329.00" fill="#000"/>
<rect x="1272.30" y="2185.50" width="650.30" height="3.40" fill="#000"/>
<rect x="1272.30" y="1859.90" width="13.50" height="3.40" fill="#000"/>
<rect x="1272.30" y="1940.20" width="13.50" height="3.40" fill="#000"/>
<rect x="1272.30" y="2022.30" width="13.50" height="3.40" fill="#000"/>
<rect x="1272.30" y="2104.30" width="13.50" height="3.40" fill="#000"/>
<rect x="1284.10" y="2187.20" width="3.40" height="8.50" fill="#000"/>
<rect x="1442.30" y="2187.20" width="3.40" height="8.50" fill="#000"/>
<rect x="1601.80" y="2187.20" width="3.40" height="8.50" fill="#000"/>
<rect x="1761.30" y="2187.20" width="3.40" height="8.50" fill="#000"/>
<rect x="1919.20" y="2187.20" width="3.40" height="8.50" fill="#000"/>
<rect x="1340.10" y="2051.50" width="49.60" height="135.70" fill="#000"/>
<rect x="1363.35" y="2045.00" width="3.30" height="7.50" fill="#000"/>
<rect x="1359.75" y="2045.00" width="10.50" height="3.20" fill="#000"/>
<rect x="1497.50" y="2035.00" width="51.50" height="152.20" fill="#000"/>
<rect x="1521.85" y="2024.80" width="3.30" height="11.20" fill="#000"/>
<rect x="1518.25" y="2024.80" width="10.50" height="3.20" fill="#000"/>
<rect x="1657.50" y="1990.00" width="51.50" height="197.20" fill="#000"/>
<rect x="1681.35" y="1979.30" width="3.30" height="11.70" fill="#000"/>
<rect x="1677.75" y="1979.30" width="10.50" height="3.20" fill="#000"/>
<rect x="1815.30" y="1930.00" width="51.90" height="257.20" fill="#000"/>
<rect x="1839.85" y="1905.20" width="3.30" height="25.80" fill="#000"/>
<rect x="1836.25" y="1905.20" width="10.50" height="3.20" fill="#000"/>
</g>
<g id="labels">
<text transform="translate(5.47 50.80) scale(0.9178 1)" font-size="57.78" font-weight="bold" class="b">a</text>
<text transform="translate(1006.33 44.71) scale(0.9492 1)" font-size="56.80" font-weight="bold" class="b">b</text>
<text transform="translate(5.38 591.00) scale(0.9583 1)" font-size="57.60" font-weight="bold" class="b">c</text>
<text transform="translate(5.94 1799.01) scale(0.9356 1)" font-size="56.80" font-weight="bold" class="b">d</text>
<text transform="translate(1029.91 1797.38) scale(0.9750 1)" font-size="58.67" font-weight="bold" class="b">e</text>
<text transform="translate(197.33 409.29) scale(1.0710 1)" font-size="25.31" class="t">0</text>
<text transform="translate(182.25 351.44) scale(1.0710 1)" font-size="25.31" class="t">20</text>
<text transform="translate(182.25 293.59) scale(1.0710 1)" font-size="25.31" class="t">40</text>
<text transform="translate(182.25 235.74) scale(1.0710 1)" font-size="25.31" class="t">60</text>
<text transform="translate(182.25 177.89) scale(1.0710 1)" font-size="25.31" class="t">80</text>
<text transform="translate(167.17 120.04) scale(1.0710 1)" font-size="25.31" class="t">100</text>
<text transform="translate(167.17 62.19) scale(1.0710 1)" font-size="25.31" class="t">120</text>
<text transform="translate(550.80 160.06) scale(0.9414 1)" font-size="52.99" font-weight="bold" class="b">**</text>
<text transform="translate(684.00 231.68) scale(0.9259 1)" font-size="54.02" font-weight="bold" class="b">**</text>
<text transform="translate(823.00 272.61) scale(0.9486 1)" font-size="52.99" font-weight="bold" class="b">**</text>
<text transform="translate(80.89 326.70) rotate(-90) scale(1.0378 1)" font-size="32.94">Cell viability</text>
<text transform="translate(136.81 314.97) rotate(-90) scale(1.0363 1)" font-size="32.42">(% control)</text>
<text transform="translate(141.46 468.00)" font-size="33.20">ox-LDL</text>
<text transform="translate(143.44 503.00)" font-size="33.20">(<tspan dx="1.2">mg/L</tspan><tspan dx="2.6">)</tspan></text>
<text transform="translate(282.84 484.20) scale(0.6887 1)" font-size="70.40" font-weight="bold" class="b">–</text>
<text transform="translate(410.64 478.00)" font-size="33.20">25</text>
<text transform="translate(544.96 478.00)" font-size="33.20">50</text>
<text transform="translate(670.92 478.00)" font-size="33.20">100</text>
<text transform="translate(799.92 478.00)" font-size="33.20">150</text>
<text transform="translate(1203.33 418.87) scale(1.0193 1)" font-size="24.06" class="t">0</text>
<text transform="translate(1176.06 329.32) scale(1.0193 1)" font-size="24.06" class="t">100</text>
<text transform="translate(1176.06 239.77) scale(1.0193 1)" font-size="24.06" class="t">200</text>
<text transform="translate(1176.06 150.22) scale(1.0193 1)" font-size="24.06" class="t">300</text>
<text transform="translate(1176.06 60.67) scale(1.0193 1)" font-size="24.06" class="t">400</text>
<text transform="translate(1568.50 243.71) scale(0.8116 1)" font-size="52.99" font-weight="bold" class="b">*</text>
<text transform="translate(1696.35 183.21) scale(0.8785 1)" font-size="52.99" font-weight="bold" class="b">**</text>
<text transform="translate(1833.85 122.71) scale(0.8785 1)" font-size="52.99" font-weight="bold" class="b">**</text>
<text transform="translate(1077.47 330.13) rotate(-90) scale(0.9981 1)" font-size="33.73">LDH  release</text>
<text transform="translate(1133.39 290.61) rotate(-90) scale(1.0569 1)" font-size="32.52">(U/L)</text>
<text transform="translate(1128.96 461.00)" font-size="33.20">ox-LDL</text>
<text transform="translate(1130.94 497.00)" font-size="33.20">(<tspan dx="1.2">mg/L</tspan><tspan dx="2.6">)</tspan></text>
<text transform="translate(1292.24 477.20) scale(0.6887 1)" font-size="70.40" font-weight="bold" class="b">–</text>
<text transform="translate(1419.44 471.00)" font-size="33.20">25</text>
<text transform="translate(1557.46 471.00)" font-size="33.20">50</text>
<text transform="translate(1680.42 471.00)" font-size="33.20">100</text>
<text transform="translate(1817.42 471.00)" font-size="33.20">150</text>
<text transform="translate(59.21 757.00)" font-size="33.20">NLRP3</text>
<text transform="translate(87.70 857.00)" font-size="33.20">ASC</text>
<text transform="translate(58.92 961.00)" font-size="33.20">pro-</text>
<text transform="translate(1.46 997.30) scale(0.9880 1)" font-size="33.20">Caspase-1</text>
<text transform="translate(4.87 1090.00) scale(0.9850 1)" font-size="33.20">Caspase-1</text>
<text transform="translate(28.74 1130.00)" font-size="33.20">(<tspan dx="3.2">p 20</tspan><tspan dx="2.7">)</tspan></text>
<text transform="translate(2.44 1231.00)" font-size="33.20">GSDMD-N</text>
<text transform="translate(27.48 1356.30) scale(1.0200 1)" font-size="33.20">pro-IL-1β</text>
<text transform="translate(88.36 1477.20) scale(1.0180 1)" font-size="33.20">IL-1β</text>
<text transform="translate(59.18 1577.00) scale(1.0200 1)" font-size="33.20">β-actin</text>
<text transform="translate(83.26 1665.30)" font-size="33.20">ox-LDL</text>
<text transform="translate(85.04 1700.30)" font-size="33.20">(<tspan dx="1.2">mg/L</tspan><tspan dx="2.6">)</tspan></text>
<text transform="translate(230.06 1699.00) scale(0.6994 1)" font-size="67.66" font-weight="bold" class="b">–</text>
<text transform="translate(322.44 1694.00)" font-size="33.20">25</text>
<text transform="translate(431.46 1694.00)" font-size="33.20">50</text>
<text transform="translate(525.42 1694.00)" font-size="33.20">100</text>
<text transform="translate(892.87 640.38) scale(0.7785 1)" font-size="29.07" class="t">1.2</text>
<text transform="translate(892.87 721.58) scale(0.7785 1)" font-size="29.07" class="t">0.8</text>
<text transform="translate(892.52 803.28) scale(0.7785 1)" font-size="29.07" class="t">0.4</text>
<text transform="translate(911.39 885.08) scale(0.7785 1)" font-size="29.07" class="t">0</text>
<text transform="translate(1110.00 697.26) scale(0.9511 1)" font-size="52.99" font-weight="bold" class="b">**</text>
<text transform="translate(1184.30 647.26) scale(0.9438 1)" font-size="52.99" font-weight="bold" class="b">**</text>
<text transform="translate(832.10 855.36) rotate(-90) scale(1.1293 1)" font-size="25.60">Relative protein</text>
<text transform="translate(868.80 861.00) rotate(-90) scale(1.1218 1)" font-size="25.73">level of  NLRP3</text>
<text transform="translate(1454.19 636.55) scale(0.7608 1)" font-size="28.37" class="t">1</text>
<text transform="translate(1436.19 684.55) scale(0.7608 1)" font-size="28.37" class="t">0.8</text>
<text transform="translate(1436.19 733.95) scale(0.7608 1)" font-size="28.37" class="t">0.6</text>
<text transform="translate(1435.86 783.25) scale(0.7608 1)" font-size="28.37" class="t">0.4</text>
<text transform="translate(1436.19 832.25) scale(0.7608 1)" font-size="28.37" class="t">0.2</text>
<text transform="translate(1453.86 880.55) scale(0.7608 1)" font-size="28.37" class="t">0</text>
<text transform="translate(1576.70 780.98) scale(0.9253 1)" font-size="55.30" font-weight="bold" class="b">**</text>
<text transform="translate(1652.70 741.48) scale(0.9277 1)" font-size="55.30" font-weight="bold" class="b">**</text>
<text transform="translate(1726.00 681.48) scale(0.9184 1)" font-size="55.30" font-weight="bold" class="b">**</text>
<text transform="translate(1378.51 848.20) rotate(-90) scale(1.1303 1)" font-size="26.02">Relative protein</text>
<text transform="translate(1416.59 839.35) rotate(-90) scale(1.0618 1)" font-size="26.40">level of  ASC</text>
<text transform="translate(910.60 953.48) scale(0.7684 1)" font-size="29.07" class="t">1</text>
<text transform="translate(891.97 1002.98) scale(0.7684 1)" font-size="29.07" class="t">0.8</text>
<text transform="translate(891.97 1053.78) scale(0.7684 1)" font-size="29.07" class="t">0.6</text>
<text transform="translate(891.63 1103.98) scale(0.7684 1)" font-size="29.07" class="t">0.4</text>
<text transform="translate(891.97 1154.98) scale(0.7684 1)" font-size="29.07" class="t">0.2</text>
<text transform="translate(910.25 1205.98) scale(0.7684 1)" font-size="29.07" class="t">0</text>
<text transform="translate(1042.70 997.40) scale(0.9048 1)" font-size="53.76" font-weight="bold" class="b">*</text>
<text transform="translate(1116.00 1007.40) scale(0.8810 1)" font-size="53.76" font-weight="bold" class="b">*</text>
<text transform="translate(1180.60 1040.80) scale(1.0043 1)" font-size="53.76" font-weight="bold" class="b">**</text>
<text transform="translate(818.65 1215.39) rotate(-90) scale(1.1565 1)" font-size="25.39">Relative protein  level</text>
<text transform="translate(853.35 1184.32) rotate(-90) scale(1.1583 1)" font-size="25.39">of pro-Caspase-1</text>
<text transform="translate(830.66 1251.60)" font-size="33.20">ox-LDL</text>
<text transform="translate(831.74 1287.20)" font-size="33.20">(<tspan dx="1.2">mg/L</tspan><tspan dx="2.6">)</tspan></text>
<text transform="translate(964.16 1270.00) scale(0.6873 1)" font-size="68.57" font-weight="bold" class="b">–</text>
<text transform="translate(1026.14 1265.00)" font-size="33.20">25</text>
<text transform="translate(1102.26 1265.00)" font-size="33.20">50</text>
<text transform="translate(1166.22 1265.00)" font-size="33.20">100</text>
<text transform="translate(1435.00 972.94) scale(0.7034 1)" font-size="28.93" class="t">0.8</text>
<text transform="translate(1435.00 1033.64) scale(0.7034 1)" font-size="28.93" class="t">0.6</text>
<text transform="translate(1434.68 1093.84) scale(0.7034 1)" font-size="28.93" class="t">0.4</text>
<text transform="translate(1435.00 1154.34) scale(0.7034 1)" font-size="28.93" class="t">0.2</text>
<text transform="translate(1451.65 1214.44) scale(0.7034 1)" font-size="28.93" class="t">0</text>
<text transform="translate(1585.00 1158.80) scale(0.8571 1)" font-size="53.76" font-weight="bold" class="b">*</text>
<text transform="translate(1649.30 1066.80) scale(0.9709 1)" font-size="53.76" font-weight="bold" class="b">**</text>
<text transform="translate(1725.60 998.80) scale(0.9637 1)" font-size="53.76" font-weight="bold" class="b">**</text>
<text transform="translate(1374.44 1180.16) rotate(-90) scale(1.1596 1)" font-size="24.97">Relative protein</text>
<text transform="translate(1410.75 1196.46) rotate(-90) scale(1.1112 1)" font-size="25.39">level of  Caspase-1</text>
<text transform="translate(1368.56 1252.00)" font-size="33.20">ox-LDL</text>
<text transform="translate(1370.34 1287.20)" font-size="33.20">(<tspan dx="1.2">mg/L</tspan><tspan dx="2.6">)</tspan></text>
<text transform="translate(1502.36 1280.20) scale(0.7023 1)" font-size="67.66" font-weight="bold" class="b">–</text>
<text transform="translate(1574.44 1270.70)" font-size="33.20">25</text>
<text transform="translate(1643.96 1270.70)" font-size="33.20">50</text>
<text transform="translate(1698.62 1270.70)" font-size="33.20">100</text>
<text transform="translate(738.92 1351.96) scale(0.8017 1)" font-size="27.54" class="t">1</text>
<text transform="translate(720.50 1398.86) scale(0.8017 1)" font-size="27.54" class="t">0.8</text>
<text transform="translate(720.50 1446.26) scale(0.8017 1)" font-size="27.54" class="t">0.6</text>
<text transform="translate(720.16 1493.26) scale(0.8017 1)" font-size="27.54" class="t">0.4</text>
<text transform="translate(720.50 1540.46) scale(0.8017 1)" font-size="27.54" class="t">0.2</text>
<text transform="translate(738.57 1587.76) scale(0.8017 1)" font-size="27.54" class="t">0</text>
<text transform="translate(953.30 1446.60) scale(0.8762 1)" font-size="53.76" font-weight="bold" class="b">*</text>
<text transform="translate(1021.70 1361.80) scale(0.9780 1)" font-size="53.76" font-weight="bold" class="b">**</text>
<text transform="translate(668.79 1546.69) rotate(-90) scale(1.1241 1)" font-size="26.12">Relative protein</text>
<text transform="translate(708.89 1573.52) rotate(-90) scale(1.1005 1)" font-size="26.40">level of  GSDMD-N</text>
<text transform="translate(680.66 1656.70)" font-size="33.20">ox-LDL</text>
<text transform="translate(681.74 1691.00)" font-size="33.20">(<tspan dx="1.2">mg/L</tspan><tspan dx="2.6">)</tspan></text>
<text transform="translate(813.86 1690.20) scale(0.6994 1)" font-size="67.66" font-weight="bold" class="b">–</text>
<text transform="translate(867.54 1685.20)" font-size="33.20">25</text>
<text transform="translate(931.76 1685.20)" font-size="33.20">50</text>
<text transform="translate(986.42 1685.20)" font-size="33.20">100</text>
<text transform="translate(1227.82 1364.51) scale(0.7915 1)" font-size="27.40" class="t">2</text>
<text transform="translate(1209.74 1422.81) scale(0.7915 1)" font-size="27.40" class="t">1.5</text>
<text transform="translate(1227.82 1480.11) scale(0.7915 1)" font-size="27.40" class="t">1</text>
<text transform="translate(1209.74 1538.21) scale(0.7915 1)" font-size="27.40" class="t">0.5</text>
<text transform="translate(1227.48 1596.71) scale(0.7915 1)" font-size="27.40" class="t">0</text>
<text transform="translate(1350.70 1479.56) scale(0.9523 1)" font-size="54.27" font-weight="bold" class="b">**</text>
<text transform="translate(1426.70 1440.56) scale(0.9593 1)" font-size="54.27" font-weight="bold" class="b">**</text>
<text transform="translate(1504.30 1385.56) scale(0.9617 1)" font-size="54.27" font-weight="bold" class="b">**</text>
<text transform="translate(1141.50 1560.08) rotate(-90) scale(1.0007 1)" font-size="27.91">Relative protein</text>
<text transform="translate(1185.06 1568.04) rotate(-90) scale(0.9779 1)" font-size="28.54">level of pro-IL-1β</text>
<text transform="translate(1158.26 1658.30)" font-size="33.20">ox-LDL</text>
<text transform="translate(1160.14 1691.70)" font-size="33.20">(<tspan dx="1.2">mg/L</tspan><tspan dx="2.6">)</tspan></text>
<text transform="translate(1292.26 1692.00) scale(0.6838 1)" font-size="69.49" font-weight="bold" class="b">–</text>
<text transform="translate(1345.74 1686.70)" font-size="33.20">25</text>
<text transform="translate(1409.66 1686.70)" font-size="33.20">50</text>
<text transform="translate(1463.92 1686.70)" font-size="33.20">100</text>
<text transform="translate(1647.81 1359.66) scale(0.7804 1)" font-size="27.54" class="t">0.8</text>
<text transform="translate(1647.81 1417.46) scale(0.7804 1)" font-size="27.54" class="t">0.6</text>
<text transform="translate(1647.47 1474.86) scale(0.7804 1)" font-size="27.54" class="t">0.4</text>
<text transform="translate(1647.81 1532.26) scale(0.7804 1)" font-size="27.54" class="t">0.2</text>
<text transform="translate(1665.40 1589.96) scale(0.7804 1)" font-size="27.54" class="t">0</text>
<text transform="translate(1865.70 1506.60) scale(0.8238 1)" font-size="53.76" font-weight="bold" class="b">*</text>
<text transform="translate(1924.00 1386.34) scale(0.9642 1)" font-size="54.53" font-weight="bold" class="b">**</text>
<text transform="translate(1598.17 1545.87) rotate(-90) scale(0.9933 1)" font-size="28.01">Relative protein</text>
<text transform="translate(1633.53 1527.20) rotate(-90) scale(0.9639 1)" font-size="28.22">level of IL-1β</text>
<text transform="translate(1623.26 1654.50)" font-size="33.20">ox-LDL</text>
<text transform="translate(1624.94 1689.80)" font-size="33.20">(<tspan dx="1.2">mg/L</tspan><tspan dx="2.6">)</tspan></text>
<text transform="translate(1756.47 1688.00) scale(0.6880 1)" font-size="67.66" font-weight="bold" class="b">–</text>
<text transform="translate(1810.34 1682.50)" font-size="33.20">25</text>
<text transform="translate(1873.46 1682.50)" font-size="33.20">50</text>
<text transform="translate(1928.12 1682.50)" font-size="33.20">100</text>
<text transform="translate(140.40 1876.99) scale(1.2493 1)" font-size="26.18" class="t" style="stroke-width:1.2px">160</text>
<text transform="translate(140.40 1958.99) scale(1.2493 1)" font-size="26.18" class="t" style="stroke-width:1.2px">120</text>
<text transform="translate(158.59 2040.19) scale(1.2493 1)" font-size="26.18" class="t" style="stroke-width:1.2px">80</text>
<text transform="translate(158.59 2121.99) scale(1.2493 1)" font-size="26.18" class="t" style="stroke-width:1.2px">40</text>
<text transform="translate(176.78 2203.39) scale(1.2493 1)" font-size="26.18" class="t" style="stroke-width:1.2px">0</text>
<text transform="translate(606.80 1976.50) scale(0.8744 1)" font-size="55.04" font-weight="bold" class="b">*</text>
<text transform="translate(761.40 1931.20) scale(0.9518 1)" font-size="56.32" font-weight="bold" class="b">**</text>
<text transform="translate(97.45 2136.06) rotate(-90) scale(1.0568 1)" font-size="32.21">IL-1β (pg / ml)</text>
<text transform="translate(138.96 2262.50)" font-size="33.20">ox-LDL</text>
<text transform="translate(140.94 2296.80)" font-size="33.20">(<tspan dx="1.2">mg/L</tspan><tspan dx="2.6">)</tspan></text>
<text transform="translate(281.47 2277.10) scale(0.6726 1)" font-size="69.49" font-weight="bold" class="b">–</text>
<text transform="translate(433.44 2271.80)" font-size="33.20">25</text>
<text transform="translate(590.26 2271.80)" font-size="33.20">50</text>
<text transform="translate(738.42 2271.80)" font-size="33.20">100</text>
<text transform="translate(1207.18 1873.26) scale(0.9763 1)" font-size="33.66" class="t">200</text>
<text transform="translate(1207.18 1954.76) scale(0.9763 1)" font-size="33.66" class="t">150</text>
<text transform="translate(1207.18 2036.06) scale(0.9763 1)" font-size="33.66" class="t">100</text>
<text transform="translate(1225.46 2117.56) scale(0.9763 1)" font-size="33.66" class="t">50</text>
<text transform="translate(1243.73 2198.76) scale(0.9763 1)" font-size="33.66" class="t">0</text>
<text transform="translate(1674.00 1980.54) scale(0.8421 1)" font-size="58.37" font-weight="bold" class="b">*</text>
<text transform="translate(1822.70 1905.70) scale(0.9605 1)" font-size="58.88" font-weight="bold" class="b">**</text>
<text transform="translate(1153.93 2148.03) rotate(-90) scale(1.0417 1)" font-size="32.31">IL-18 ( pg / ml)</text>
<text transform="translate(1207.96 2252.50)" font-size="33.20">ox-LDL</text>
<text transform="translate(1209.94 2288.30)" font-size="33.20">(<tspan dx="1.2">mg/L</tspan><tspan dx="2.6">)</tspan></text>
<text transform="translate(1350.47 2267.30) scale(0.6726 1)" font-size="69.49" font-weight="bold" class="b">–</text>
<text transform="translate(1502.44 2262.20)" font-size="33.20">25</text>
<text transform="translate(1663.26 2262.20)" font-size="33.20">50</text>
<text transform="translate(1810.92 2262.20)" font-size="33.20">100</text>
</g>
</svg>
</body>
</html>
